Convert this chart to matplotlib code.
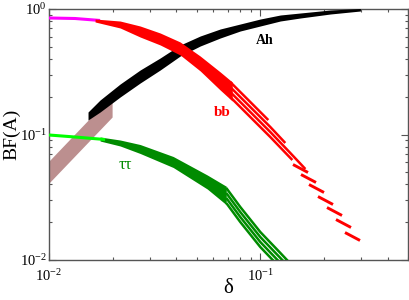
import matplotlib
matplotlib.use("Agg")
import matplotlib.pyplot as plt
from matplotlib.path import Path

plt.rcParams['font.family'] = 'serif'
plt.rcParams['font.serif'] = ['Liberation Serif', 'DejaVu Serif']
plt.rcParams['mathtext.fontset'] = 'custom'
plt.rcParams['mathtext.rm'] = 'Liberation Serif'
plt.rcParams['mathtext.it'] = 'Liberation Serif:italic'
plt.rcParams['mathtext.bf'] = 'Liberation Serif:bold'

# ---- A -> Z h (brown part at small delta, black after)
ah_brown_d = [0.01, 0.01989]
ah_brown_lo = [0.0411, 0.1378]
ah_brown_hi = [0.0615, 0.2064]

ah_d = [0.01530, 0.01745, 0.02171, 0.02700, 0.03358, 0.04177, 0.05195,
        0.06462, 0.08037, 0.1000, 0.1244, 0.1547, 0.2147, 0.2978]
ah_lo = [0.1304, 0.1511, 0.1990, 0.2572, 0.3265, 0.4221, 0.5072,
         0.5874, 0.6680, 0.7322, 0.8025, 0.8479, 0.9124, 0.9640]
ah_hi = [0.1511, 0.1884, 0.2526, 0.3265, 0.4071, 0.5165, 0.6093,
         0.6930, 0.7593, 0.8322, 0.8958, 0.9293, 0.9818, 1.0092]

# ---- A -> b b
bb_mag_d = [0.01, 0.01328, 0.01745]
bb_mag = [0.848, 0.840, 0.810]

bb_d = [0.01652, 0.02171, 0.02700, 0.03358, 0.04177, 0.05195, 0.06462, 0.07367]
bb_lo = [0.788, 0.706, 0.598, 0.517, 0.430, 0.321, 0.226, 0.1849]
bb_hi = [0.832, 0.802, 0.732, 0.644, 0.546, 0.422, 0.315, 0.2620]

# striped part of bb: four parallel rows, the lowest one ends in loose dashes
bb_r1_d = [0.07207, 0.08966, 0.1115, 0.1418]
bb_r1 = [0.1990, 0.1378, 0.0955, 0.0626]
bb_r2_d = [0.07207, 0.08966, 0.1115, 0.1387, 0.1634]
bb_r2 = [0.2182, 0.1511, 0.1047, 0.0712, 0.0531]
bb_r3_d = [0.07207, 0.08966, 0.1115, 0.1313]
bb_r3 = [0.2390, 0.1656, 0.1148, 0.0856]
bb_r4_d = [0.07207, 0.08966, 0.1091]
bb_r4 = [0.2620, 0.1815, 0.1304]
bb_tail_d = [0.1539, 0.1680, 0.1832, 0.2021, 0.2230, 0.2460, 0.2729]
bb_tail = [0.0541, 0.0450, 0.0375, 0.0303, 0.0246, 0.0197, 0.01567]

# ---- A -> tau tau
tt_lime_d = [0.01, 0.01328, 0.01843]
tt_lime = [0.0991, 0.0955, 0.0912]

tt_d = [0.01745, 0.02171, 0.02700, 0.03870, 0.05608, 0.06902]
tt_lo = [0.0887, 0.0810, 0.0706, 0.0546, 0.0368, 0.02758]
tt_hi = [0.0955, 0.0904, 0.0832, 0.0668, 0.0476, 0.0387]

tt_r_d = [0.06902, 0.08037, 0.1000, 0.1244, 0.1482]
tt_r1 = [0.02846, 0.02009, 0.01269, 0.00864, 0.00632]
tt_r2 = [0.03119, 0.02202, 0.01391, 0.00947, 0.00693]
tt_r3 = [0.03418, 0.02413, 0.01524, 0.01038, 0.00759]
tt_r4 = [0.03748, 0.02646, 0.01671, 0.01138, 0.00832]

red = '#ff0000'
green4 = '#008b00'
lime = '#00ff00'
magenta = '#ff00ff'
rosy = '#bc8f8f'

dash = Path([(-1, 0.53), (1, -0.53)], [Path.MOVETO, Path.LINETO])

fig = plt.figure(figsize=(4.09, 3.0), dpi=100)
ax = fig.add_axes([49 / 409, 40 / 300, 359 / 409, 251 / 300])
ax.set_xscale('log')
ax.set_yscale('log')

# Ah
ax.fill_between(ah_brown_d, ah_brown_lo, ah_brown_hi, color=rosy, lw=0, zorder=2)
ax.fill_between(ah_d, ah_lo, ah_hi, color='black', lw=0, zorder=3)

# bb
ax.plot(bb_mag_d, bb_mag, color=magenta, lw=2.2, solid_capstyle='butt', zorder=4)
ax.fill_between(bb_d, bb_lo, bb_hi, color=red, lw=0, zorder=4)
for d, v in [(bb_r1_d, bb_r1), (bb_r2_d, bb_r2), (bb_r3_d, bb_r3), (bb_r4_d, bb_r4)]:
    ax.plot(d, v, color=red, lw=1.8, solid_capstyle='butt', zorder=4)
ax.plot(bb_tail_d, bb_tail, ls='none', marker=dash, ms=10.8, mew=2.1, mec=red, zorder=4)

# tau tau
ax.plot(tt_lime_d, tt_lime, color=lime, lw=2.2, solid_capstyle='butt', zorder=4)
ax.fill_between(tt_d, tt_lo, tt_hi, color=green4, lw=0, zorder=3)
for v in [tt_r1, tt_r2, tt_r3, tt_r4]:
    ax.plot(tt_r_d, v, color=green4, lw=1.8, solid_capstyle='butt', zorder=3)

ax.text(0.1045, 0.556, 'Ah', color='black', fontsize=10, fontweight='bold',
        ha='center', va='center')
ax.text(0.06606, 0.1511, 'bb', color=red, fontsize=11, fontweight='bold',
        ha='center', va='center')
ax.text(0.02292, 0.0571, 'ττ', color=green4, fontsize=12,
        ha='center', va='center')

ax.set_xlim(0.01, 0.5)
ax.set_ylim(0.01, 1)
ax.set_xlabel('δ', fontsize=15, va='center')
ax.xaxis.set_label_coords(0.5, -0.112)
ax.set_ylabel('BF(A)', fontsize=14, va='center')
ax.yaxis.set_label_coords(-0.104, 0.5)

for s in ax.spines.values():
    s.set_color('#555555')
    s.set_linewidth(1.0)
ax.tick_params(which='both', direction='in', top=True, right=True,
               color='#555555', labelsize=10.5)
ax.tick_params(which='major', length=5, width=0.8)
ax.tick_params(which='minor', length=2.5, width=0.8)
ax.tick_params(axis='y', pad=1.5)
ax.tick_params(axis='x', pad=6)

fig.savefig('out.png', dpi=100)
